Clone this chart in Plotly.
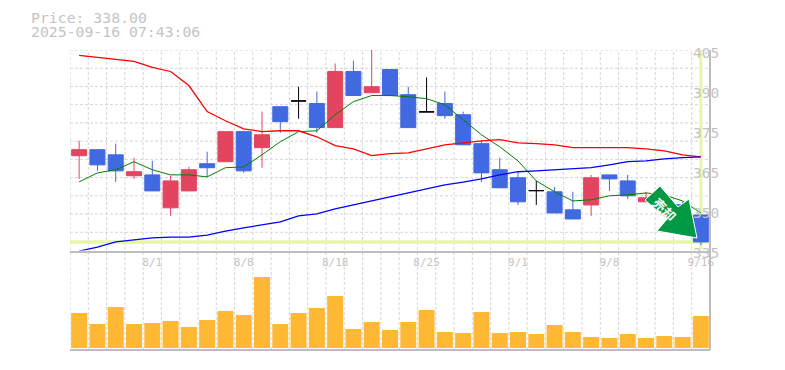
import plotly.graph_objects as go

# --- data ---
tick_labels = {4: "8/1", 9: "8/8", 14: "8/18", 19: "8/25", 24: "9/1", 29: "9/8", 34: "9/16"}
price_ticks = [405, 391, 377, 363, 349, 335]
price_tick_text = ["405", "390", "375", "365", "350", "335"]
last_price = 338.0
info_lines = ["Price: 338.00", "2025-09-16 07:43:06"]

opens = [368.1, 370.2, 368.4, 361.1, 361.4, 349.9, 355.8, 365.3, 366.0, 376.5, 370.9, 385.2,
         387.2, 386.3, 377.9, 397.5, 390.1, 398.2, 389.4, 383.4, 386.3, 382.4, 372.3, 363.2,
         360.4, 355.9, 355.5, 349.2, 350.9, 361.4, 359.3, 352.0, 352.0, 351.0, 347.4]
highs = [373.3, 370.2, 372.3, 367.4, 366.3, 361.1, 364.2, 369.5, 376.5, 376.5, 383.5, 385.2,
         392.2, 390.5, 400.3, 401.3, 407.0, 398.2, 392.2, 395.4, 390.5, 383.5, 373.3, 367.4,
         362.5, 359.3, 357.2, 355.5, 361.4, 361.4, 361.4, 355.5, 353.5, 352.0, 347.4]
lows = [360.0, 362.8, 358.9, 360.0, 355.8, 347.1, 355.8, 360.7, 366.0, 362.1, 363.9, 376.1,
        381.0, 376.1, 377.9, 389.1, 390.1, 389.1, 377.9, 383.4, 381.0, 371.9, 358.9, 356.9,
        350.9, 350.9, 348.1, 346.0, 347.1, 355.8, 353.0, 352.0, 348.0, 346.0, 336.9]
closes = [370.2, 364.9, 362.8, 362.5, 355.8, 359.3, 363.2, 363.9, 376.5, 362.8, 375.4, 380.0,
          387.2, 377.9, 397.5, 389.1, 392.2, 389.1, 377.9, 383.4, 382.1, 371.9, 362.1, 356.9,
          352.0, 355.9, 348.1, 346.0, 360.4, 360.0, 354.1, 353.4, 349.0, 347.0, 338.0]
ma_short = [358.95, 362.1, 363.2, 365.98, 363.2, 361.4, 361.4, 360.7, 363.9, 364.2, 368.4, 372.98,
            376.5, 376.8, 382.4, 386.98, 389.1, 389.1, 388.7, 388.0, 385.9, 380.7, 375.4, 371.2,
            366.3, 359.3, 355.5, 352.3, 352.7, 354.1, 354.4, 355.1, 354.4, 352.3, 348.1]
ma_mid = [403.1, 402.4, 401.7, 401.0, 398.9, 397.5, 392.6, 383.5, 380.3, 377.5, 376.5, 376.8,
          376.8, 374.7, 371.6, 370.5, 368.1, 368.8, 369.1, 370.5, 371.9, 372.6, 373.3, 373.7,
          372.6, 372.3, 371.9, 370.9, 370.9, 370.9, 370.9, 370.5, 369.8, 368.4, 367.7]
ma_long = [334.8, 336.2, 338.0, 338.7, 339.4, 339.7, 339.7, 340.4, 341.8, 342.9, 343.9, 345.0,
           347.1, 347.8, 349.5, 350.9, 352.3, 353.7, 355.1, 356.5, 357.9, 358.9, 360.0, 361.4,
           362.5, 362.8, 363.2, 363.5, 363.9, 364.9, 366.0, 366.3, 367.0, 367.4, 367.7]
volumes = [35000, 24000, 41000, 24000, 25000, 27000, 21000, 28000, 37000, 33000, 71000, 24000,
           35000, 40000, 52000, 19000, 26000, 18000, 26000, 38000, 16000, 15000, 36000, 15000,
           16000, 14000, 23000, 16000, 11000, 10000, 14000, 10000, 12000, 11000, 32000]

INK = "#c4c4c4"
GRID = "#d6d6d6"
AXIS = "#bdbdbd"
UP = "#e34560"
DOWN = "#4169e1"
HILITE = "#e6f5a8"
VOL = "#ffb833"
ARROW = "#009944"
DASH = "3px,2px"
OFFSET = 8  # the page's own margin

x = list(range(len(closes)))
normal = [i for i in x if opens[i] != closes[i]]
doji = [i for i in x if opens[i] == closes[i]]

fig = go.Figure()


def candles(idx, up, down):
    return go.Candlestick(
        x=idx,
        open=[opens[i] for i in idx], high=[highs[i] for i in idx],
        low=[lows[i] for i in idx], close=[closes[i] for i in idx],
        increasing=dict(line=dict(color=up, width=1), fillcolor=up),
        decreasing=dict(line=dict(color=down, width=1), fillcolor=down),
        whiskerwidth=0, showlegend=False, hoverinfo="skip", xaxis="x", yaxis="y",
    )


fig.add_trace(go.Bar(x=x, y=volumes, marker=dict(color=VOL, line=dict(width=0)),
                     showlegend=False, hoverinfo="skip", xaxis="x", yaxis="y2"))
for vals, col, w in ((ma_short, "#008000", 1), (ma_mid, "#ff0000", 1.3), (ma_long, "#0000ff", 1.3)):
    fig.add_trace(go.Scatter(x=x, y=vals, mode="lines", line=dict(color=col, width=w),
                             showlegend=False, hoverinfo="skip", xaxis="x", yaxis="y"))
fig.add_trace(candles(normal, UP, DOWN))
fig.add_trace(candles(doji, "#000000", "#000000"))

grid_step = 70 / 11
grid_vals = [335 + i * grid_step for i in range(12)]

fig.update_layout(
    width=785 - OFFSET, height=370 - OFFSET,
    margin=dict(l=70 - OFFSET, r=75, t=50 - OFFSET, b=20),
    paper_bgcolor="white", plot_bgcolor="rgba(0,0,0,0)",
    font=dict(family="DejaVu Sans Mono", color=INK),
    bargap=0.125, boxgap=0.18, boxgroupgap=0, boxmode="overlay",
    hovermode=False,
    xaxis=dict(
        range=[-0.5, 34.5], anchor="y", rangeslider=dict(visible=False),
        tickmode="array", tickvals=list(tick_labels), ticktext=list(tick_labels.values()),
        tickfont=dict(size=11, color=INK, family="DejaVu Sans Mono"), ticks="",
        showline=True, linecolor=AXIS, linewidth=2,
        showgrid=False, zeroline=False,
    ),
    yaxis=dict(
        domain=[99.5 / 300, 1], range=[335, 405], side="right", anchor="x",
        showgrid=False, showticklabels=False, ticks="", zeroline=False, showline=False,
    ),
    yaxis2=dict(domain=[0, 80 / 300], range=[-2000, 78000], anchor="x", showgrid=False,
                showticklabels=False, ticks="", zeroline=False, showline=False),
)


def px(xp, yp):
    return (xp - 70) / 640, (350 - yp) / 300


shapes = []
for i in range(len(x)):
    shapes.append(dict(type="line", xref="x", yref="paper", layer="below", x0=i - 0.5, x1=i - 0.5,
                       y0=0, y1=1, line=dict(color=GRID, width=1, dash=DASH)))
for val in grid_vals[1:]:
    shapes.append(dict(type="line", xref="paper", yref="y", layer="below", x0=0, x1=1,
                       y0=val, y1=val, line=dict(color=GRID, width=1, dash=DASH)))
arrow_pts = [(660, 186), (645, 200), (667, 219), (657, 231), (697, 238), (689, 199), (678, 207)]
path = "M " + " L ".join("%.4f %.4f" % px(*p) for p in arrow_pts) + " Z"
shapes += [
    dict(type="line", xref="paper", yref="y", layer="below", x0=0, x1=1,
         y0=last_price, y1=last_price, line=dict(color=HILITE, width=3.5)),
    dict(type="line", xref="x", yref="y", layer="below", x0=34, x1=34,
         y0=335.5, y1=405, line=dict(color=HILITE, width=3)),
    dict(type="line", xref="paper", yref="paper", x0=0, x1=1, y0=0, y1=0,
         line=dict(color=AXIS, width=2)),
    dict(type="line", xref="paper", yref="paper", x0=1, x1=1, y0=0, y1=1,
         line=dict(color=AXIS, width=2)),
    dict(type="path", xref="paper", yref="paper", layer="above", path=path,
         fillcolor=ARROW, line=dict(color="white", width=1)),
]
fig.update_layout(shapes=shapes)

ann = []
for i, text in enumerate(info_lines):
    ann.append(dict(xref="paper", yref="paper", x=px(29, 0)[0], y=px(0, 18 + 14 * i)[1],
                    text=text, showarrow=False, xanchor="left", yanchor="middle",
                    font=dict(size=14.8, color=INK, family="DejaVu Sans Mono")))
for val, label in zip(price_ticks, price_tick_text):
    ann.append(dict(xref="paper", yref="y", x=px(691, 0)[0], y=val, yshift=-2.5,
                    text=label, showarrow=False, xanchor="left", yanchor="middle",
                    font=dict(size=14.5, color=INK, family="DejaVu Sans Mono")))
ann.append(dict(xref="paper", yref="paper", x=px(665, 0)[0], y=px(0, 209)[1], text="<b>売却</b>", textangle=45,
                showarrow=False, xanchor="center", yanchor="middle",
                font=dict(size=13, color="#ffffff", family="Noto Sans CJK JP")))
fig.update_layout(annotations=ann)

fig.write_html("out.html")
